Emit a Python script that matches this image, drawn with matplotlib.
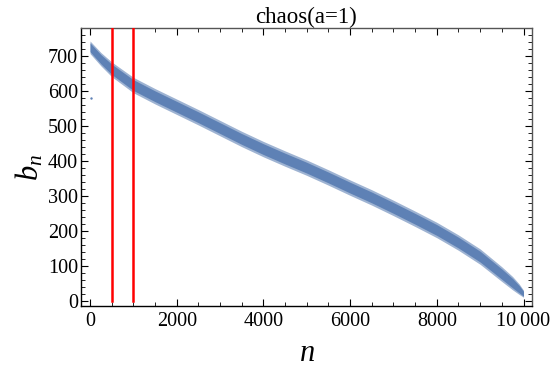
import matplotlib
matplotlib.use("Agg")
import matplotlib.pyplot as plt
from matplotlib.ticker import MultipleLocator, FixedLocator, FixedFormatter

# Data: centre of the point cloud and its half-spread
n_vals = [0, 250, 500, 1000, 1500, 2000, 2500, 3000, 3500, 4000, 4500, 5000,
          5500, 6000, 6500, 7000, 7500, 8000, 8500, 9000, 9500, 9750, 9900, 10000]
b_center = [724, 690, 661, 616, 584, 554, 524, 493, 462, 433, 406, 380,
            352, 323, 295, 265, 234, 202, 166, 126, 76, 50, 33, 20]
b_spread = [18, 19, 21, 22, 22, 22, 22, 22, 22, 22, 22, 22,
            22, 22, 22, 22, 22, 22, 22, 22, 21, 19, 15, 10]
outlier_n = [20]
outlier_b = [580]
red_lines_n = [500, 1000]

x_ticks = [0, 2000, 4000, 6000, 8000, 10000]
x_tick_labels = ["0", "2000", "4000", "6000", "8000", "10\u2009000"]
y_ticks = [0, 100, 200, 300, 400, 500, 600, 700]

blue = "#5E81B5"
serif = ["Liberation Serif", "DejaVu Serif"]
plt.rcParams["font.family"] = serif
plt.rcParams["mathtext.fontset"] = "custom"
plt.rcParams["mathtext.rm"] = "Liberation Serif"
plt.rcParams["mathtext.it"] = "Liberation Serif:italic"

fig = plt.figure(figsize=(5.53, 3.78), dpi=100)
ax = fig.add_axes([81 / 553, 72 / 378, (532 - 81) / 553, (306 - 28) / 378])

lo = [c - s for c, s in zip(b_center, b_spread)]
hi = [c + s for c, s in zip(b_center, b_spread)]
lo_in = [c - 0.7 * s for c, s in zip(b_center, b_spread)]
hi_in = [c + 0.7 * s for c, s in zip(b_center, b_spread)]
ax.fill_between(n_vals, lo, hi, color=blue, alpha=0.6, lw=0, zorder=2)
ax.fill_between(n_vals, lo_in, hi_in, color=blue, alpha=1.0, lw=0, zorder=3)
ax.scatter(outlier_n, outlier_b, s=3, color=blue, lw=0, zorder=3)

for xv in red_lines_n:
    ax.plot([xv, xv], [0, 900], color="#FF0000", lw=1.8, zorder=4)

ax.set_xlim(-208, 10196)
ax.set_ylim(-15, 779)

ax.xaxis.set_major_locator(FixedLocator(x_ticks))
ax.xaxis.set_major_formatter(FixedFormatter(x_tick_labels))
ax.xaxis.set_minor_locator(MultipleLocator(500))
ax.yaxis.set_major_locator(FixedLocator(y_ticks))
ax.yaxis.set_minor_locator(MultipleLocator(20))

ax.tick_params(which="both", direction="in", top=True, right=True,
               labeltop=False, labelright=False, labelsize=14.5,
               colors="black")
ax.tick_params(axis="x", which="both", pad=4)
ax.tick_params(axis="y", which="both", pad=2)
ax.tick_params(which="major", length=5, width=0.8)
ax.tick_params(which="minor", length=2.8, width=0.6)
for side in ["left", "bottom"]:
    ax.spines[side].set_color("black")
    ax.spines[side].set_linewidth(1.0)
for side in ["top", "right"]:
    ax.spines[side].set_color("#555555")
    ax.spines[side].set_linewidth(1.0)

ax.set_title("chaos(a=1)", fontsize=16.5, pad=3)
ax.set_xlabel(r"$n$", fontsize=22, labelpad=6)
ax.set_ylabel(r"$b_n$", fontsize=22, labelpad=2)

fig.savefig("out.png", dpi=100)
